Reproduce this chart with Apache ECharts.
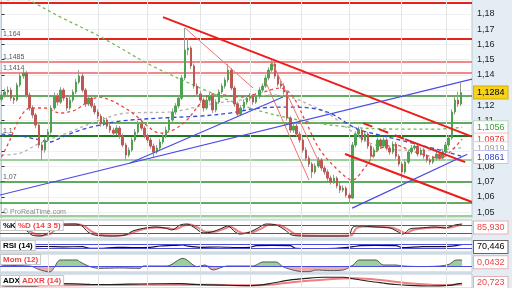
<!DOCTYPE html>
<html><head><meta charset="utf-8">
<script src="https://cdn.jsdelivr.net/npm/echarts/dist/echarts.min.js"></script>
<style>html,body{margin:0;padding:0;background:#e4edf4}#c{width:512px;height:288px}</style>
</head><body><div id="c"></div><script>
// ---------- data ----------
const opens=[1.1240,1.1268,1.1288,1.1301,1.1248,1.1235,1.1334,1.1393,1.1413,1.1268,
1.1183,1.1137,1.1071,1.0940,1.0907,1.0973,1.1025,1.1183,1.1261,1.1222,
1.1301,1.1248,1.1183,1.1235,1.1288,1.1353,1.1393,1.1301,1.1209,1.1248,
1.1196,1.1157,1.1130,1.1078,1.1104,1.1064,1.1038,1.1018,1.1051,1.0999,
1.0940,1.0874,1.0907,1.0973,1.1025,1.1078,1.1051,1.0999,1.0973,1.0933,
1.0894,1.0920,1.0960,1.0999,1.1038,1.1104,1.1157,1.1196,1.1248,1.1380,
1.1564,1.1577,1.1459,1.1327,1.1275,1.1235,1.1183,1.1235,1.1261,1.1170,
1.1222,1.1288,1.1327,1.1367,1.1432,1.1314,1.1209,1.1143,1.1183,1.1222,
1.1248,1.1261,1.1222,1.1261,1.1301,1.1327,1.1380,1.1432,1.1472,1.1393,
1.1340,1.1327,1.1288,1.1117,1.1038,1.1064,1.1012,1.0973,1.0907,1.0854,
1.0815,1.0763,1.0802,1.0841,1.0789,1.0763,1.0723,1.0697,1.0723,1.0671,
1.0644,1.0657,1.0611,1.0592,1.0940,1.1012,1.1038,1.0973,1.1012,1.0933,
1.0867,1.0907,1.0973,1.0933,1.0973,1.0920,1.0894,1.0946,1.0867,1.0815,
1.0763,1.0828,1.0894,1.0920,1.0933,1.0881,1.0907,1.0867,1.0841,1.0828,
1.0854,1.0881,1.0854,1.0894,1.0940,1.0986,1.1157,1.1235,1.1209];
const closes=[1.1268,1.1288,1.1301,1.1248,1.1235,1.1334,1.1393,1.1413,1.1268,1.1183,
1.1137,1.1071,1.0940,1.0907,1.0973,1.1025,1.1183,1.1261,1.1222,1.1301,
1.1248,1.1183,1.1235,1.1288,1.1353,1.1393,1.1301,1.1209,1.1248,1.1196,
1.1157,1.1130,1.1078,1.1104,1.1064,1.1038,1.1018,1.1051,1.0999,1.0940,
1.0874,1.0907,1.0973,1.1025,1.1078,1.1051,1.0999,1.0973,1.0933,1.0894,
1.0920,1.0960,1.0999,1.1038,1.1104,1.1157,1.1196,1.1248,1.1380,1.1564,
1.1577,1.1459,1.1327,1.1275,1.1235,1.1183,1.1235,1.1261,1.1170,1.1222,
1.1288,1.1327,1.1367,1.1432,1.1314,1.1209,1.1143,1.1183,1.1222,1.1248,
1.1261,1.1222,1.1261,1.1301,1.1327,1.1380,1.1432,1.1472,1.1393,1.1340,
1.1327,1.1288,1.1117,1.1038,1.1064,1.1012,1.0973,1.0907,1.0854,1.0815,
1.0763,1.0802,1.0841,1.0789,1.0763,1.0723,1.0697,1.0723,1.0671,1.0644,
1.0657,1.0611,1.0592,1.0940,1.1012,1.1038,1.0973,1.1012,1.0933,1.0867,
1.0907,1.0973,1.0933,1.0973,1.0920,1.0894,1.0946,1.0867,1.0815,1.0763,
1.0828,1.0894,1.0920,1.0933,1.0881,1.0907,1.0867,1.0841,1.0828,1.0854,
1.0881,1.0854,1.0894,1.0940,1.0986,1.1157,1.1235,1.1209,1.1284];
const highs=[1.1290,1.1310,1.1325,1.1318,1.1265,1.1350,1.1410,1.1440,1.1425,1.1285,
1.1200,1.1150,1.1085,1.0960,1.0990,1.1045,1.1200,1.1285,1.1280,1.1320,
1.1315,1.1260,1.1255,1.1305,1.1375,1.1432,1.1410,1.1315,1.1270,1.1262,
1.1215,1.1175,1.1145,1.1125,1.1120,1.1080,1.1055,1.1070,1.1065,1.1015,
1.0955,1.0925,1.0990,1.1045,1.1100,1.1095,1.1065,1.1015,1.0990,1.0950,
1.0940,1.0980,1.1020,1.1060,1.1125,1.1180,1.1215,1.1270,1.1400,1.1708,
1.1640,1.1590,1.1475,1.1345,1.1295,1.1250,1.1255,1.1285,1.1275,1.1240,
1.1305,1.1345,1.1385,1.1472,1.1445,1.1330,1.1225,1.1200,1.1240,1.1265,
1.1280,1.1275,1.1280,1.1320,1.1345,1.1400,1.1450,1.1498,1.1485,1.1405,
1.1360,1.1345,1.1300,1.1130,1.1085,1.1080,1.1030,1.0990,1.0925,1.0870,
1.0830,1.0820,1.0862,1.0855,1.0805,1.0780,1.0740,1.0745,1.0735,1.0690,
1.0675,1.0670,1.0625,1.0960,1.1030,1.1060,1.1050,1.1030,1.1025,1.0945,
1.0925,1.0990,1.0985,1.0990,1.0985,1.0935,1.0965,1.0960,1.0880,1.0830,
1.0845,1.0910,1.0940,1.0955,1.0945,1.0925,1.0920,1.0880,1.0855,1.0870,
1.0900,1.0895,1.0910,1.0960,1.1005,1.1175,1.1260,1.1290,1.1347];
const lows=[1.1225,1.1250,1.1270,1.1230,1.1210,1.1225,1.1320,1.1375,1.1250,1.1165,
1.1115,1.1050,1.0920,1.0841,1.0890,1.0960,1.1010,1.1170,1.1200,1.1210,
1.1230,1.1165,1.1170,1.1220,1.1275,1.1340,1.1285,1.1190,1.1195,1.1180,
1.1140,1.1110,1.1060,1.1065,1.1045,1.1020,1.1000,1.1005,1.0980,1.0925,
1.0841,1.0860,1.0895,1.0960,1.1010,1.1035,1.0985,1.0955,1.0915,1.0861,
1.0880,1.0905,1.0945,1.0985,1.1025,1.1090,1.1140,1.1180,1.1235,1.1365,
1.1530,1.1440,1.1310,1.1255,1.1215,1.1160,1.1170,1.1220,1.1150,1.1155,
1.1210,1.1275,1.1310,1.1350,1.1300,1.1190,1.1125,1.1130,1.1170,1.1205,
1.1230,1.1205,1.1210,1.1245,1.1285,1.1315,1.1365,1.1420,1.1375,1.1325,
1.1310,1.1270,1.1100,1.1020,1.1020,1.0995,1.0955,1.0890,1.0835,1.0795,
1.0723,1.0750,1.0790,1.0770,1.0745,1.0705,1.0680,1.0685,1.0655,1.0625,
1.0630,1.0595,1.0559,1.0585,1.0925,1.0995,1.0955,1.0960,1.0915,1.0850,
1.0855,1.0895,1.0915,1.0920,1.0905,1.0875,1.0880,1.0850,1.0800,1.0723,
1.0750,1.0815,1.0880,1.0905,1.0865,1.0870,1.0850,1.0825,1.0810,1.0815,
1.0840,1.0840,1.0845,1.0880,1.0925,1.0975,1.1140,1.1190,1.1195];

// moving averages [barIndex, price]
const ma20=[[0,1.0861],[2.7,1.0973],[5.9,1.1117],[9.2,1.1183],[14,1.1183],[18.8,1.1150],[23.7,1.1170],[28.5,1.1235],[31.7,1.1255],[34.9,1.1235],[38.1,1.1203],[43,1.1137],[47.8,1.1051],[51,1.1018],[55.2,1.1038],[59.7,1.1104],[63.9,1.1209],[68.1,1.1275],[72,1.1268],[76.8,1.1255],[83.2,1.1281],[89.7,1.1314],[93.5,1.1268],[97.7,1.1104],[102.6,1.0907],[109,1.0763],[112.9,1.0710],[117.1,1.0795],[121.2,1.0907],[126.7,1.0940],[131.5,1.0907],[136.4,1.0874],[141.2,1.0854],[144.4,1.0894],[148.3,1.0979]];
const ma50=[[0,1.1012],[6,1.0999],[12.4,1.0973],[15.6,1.0960],[18.8,1.0986],[25.3,1.1038],[31.7,1.1071],[38.1,1.1097],[51,1.1117],[63.9,1.1130],[73.6,1.1150],[83.2,1.1183],[92.9,1.1189],[99.3,1.1183],[105.8,1.1150],[112.2,1.1071],[115.4,1.1038],[121.9,1.1005],[128.3,1.0973],[141.2,1.0907],[148.3,1.0866]];
const ma100=[[0,1.0874],[6,1.0887],[12.4,1.0953],[21.1,1.1019],[31.7,1.1104],[40.4,1.1150],[54.3,1.1157],[67.1,1.1209],[76.8,1.1235],[86.5,1.1268],[92.9,1.1255],[99.3,1.1203],[105.8,1.1137],[112.2,1.1038],[118.7,1.0953],[128.3,1.0907],[138,1.0907],[148.3,1.0922]];
const ma200=[[0,1.2003],[9,1.1892],[19,1.1780],[32,1.1649],[48,1.1465],[64,1.1314],[80,1.1183],[96,1.1104],[112,1.1058],[128,1.1045],[141,1.1045],[148.3,1.1056]];

// trend lines [barIndex, price]
const redMain=[[52,1.1780],[151.5,1.0995]];
const redThinA=[[59.1,1.1708],[81,1.1314]];
const redThinB=[[84.8,1.1367],[99,1.0710]];
const redThinC=[[87.1,1.1485],[102.2,1.0828]];
const redLow=[[110.6,1.0881],[151.5,1.0566]];
const redUpDash=[[116.4,1.1084],[129.9,1.0979]];
const redUpSolid=[[129.9,1.0979],[149.3,1.0828]];
const blueLong=[[-0.5,1.0612],[151.5,1.1373]];
const blueSteep=[[41.4,1.0822],[90.6,1.1255]];
const blueRight=[[112.9,1.0526],[150,1.0880]];

// horizontal levels
const levelsRed=[1.1874,1.164];
const levelsPink=[1.1485,1.1414];
const levelsGreen=[1.1262,1.1086,1.07,1.0561];
const levelsGreenDark=[1.10];
const levelsGreenLight=[1.0841,1.0474];
const labeledLevels=[1.1874,1.164,1.1485,1.1414,1.10,1.07];
const labeledText=['1,1874','1,164','1,1485','1,1414','1,1','1,07'];

// right-hand value boxes
const lastPrice=1.1284;
const maLast={ma200:1.1056, ma20:1.0976, ma100:1.0919, ma50:1.0861};

// indicators [barIndex, value]
const stochK=[[0,59],[7.6,45],[9.8,9],[12.4,2],[15,24],[17.2,73],[19.5,87],[23.7,87],[25.9,73],[27.8,31],[30.1,9],[34.9,2],[39.8,9],[42.3,38],[44.6,52],[49.4,66],[52.6,59],[54.9,45],[57.5,80],[59.7,87],[62.3,59],[64.9,24],[67.8,31],[70.4,52],[72.9,73],[75.2,31],[76.8,16],[80,31],[82.6,59],[85.2,87],[88.4,80],[91.3,45],[93.5,9],[97.7,2],[105.8,2],[111.6,2],[113.2,66],[115.4,73],[120.3,66],[125.1,59],[127.7,31],[129.3,16],[131.5,52],[134.8,59],[139.6,66],[142.8,59],[146,80],[148.3,87]];
const stochD=[[0,62],[8,50],[10.5,20],[13,6],[15.7,18],[18,60],[20.5,82],[24.5,85],[26.8,70],[28.7,38],[31,14],[35.5,5],[40.5,12],[43,33],[45.5,50],[50,63],[53.5,58],[56,50],[58.5,74],[60.6,84],[63.2,62],[65.8,32],[68.7,32],[71.3,50],[73.8,68],[76,38],[77.8,22],[81,30],[83.6,55],[86.2,82],[89.3,80],[92.2,50],[94.5,16],[98.6,5],[106.7,4],[112.5,5],[114.2,55],[116.4,70],[121.2,67],[126,60],[128.6,36],[130.3,22],[132.5,45],[135.7,56],[140.5,63],[143.7,60],[147,76],[148.3,82]];
const stochLevels=[80,20];
const stochLast=85.930;
const rsi=[[0,50],[5,46],[9.2,48],[14,50],[20,47],[26,48],[28.5,32],[31.7,32],[37,42],[42,40],[47.8,42],[51,55],[55,60],[58.4,65],[59.7,55],[63.9,42],[70,45],[76,40],[80,42],[82,58],[87,60],[92.9,58],[94.8,32],[100,30],[107.7,32],[113.2,48],[115.4,58],[120,60],[127,58],[129.3,38],[135.7,48],[142.2,48],[146.4,58],[148.3,70]];
const rsiLevels=[70,30];
const rsiLast=70.446;
const mom=[[0,0.004],[9.2,0],[12,-0.025],[15.6,-0.043],[17,-0.010],[18.8,0.043],[24.3,0.043],[25.3,0.029],[28.5,-0.005],[31.7,-0.017],[38,-0.014],[44.6,-0.017],[45.6,0],[53.3,0],[58.4,0.055],[63,-0.005],[65.5,0.007],[68.1,-0.029],[72.6,0],[81,0],[82,0.007],[84.2,0.029],[88.4,0.029],[90.6,-0.005],[94,-0.030],[97.1,-0.041],[99,-0.041],[101.3,-0.029],[106,-0.033],[110,-0.029],[113.2,0.007],[115.1,0.043],[120.6,0.043],[122.9,0.007],[127,0.007],[129.3,0],[135,-0.004],[141.2,0],[144.1,0.012],[146.4,0.043],[148.3,0.043]];
const momLast=0.0432;
const adx=[[0,14],[2.7,12.6],[9.8,13],[12.4,15],[15,18.5],[19.1,20.7],[23.7,20],[28.5,18],[34.9,17.7],[44.6,19.5],[57.5,20.7],[62.3,18],[71,15.6],[78.4,14],[82,14.7],[87.4,22.8],[92.6,32.7],[98.1,38.7],[103.5,42.6],[110,42.6],[114.2,35.7],[118.3,28.8],[122.8,22.8],[127,17.7],[131.2,14.7],[137.7,12.6],[144.1,14.7],[147.3,20.7],[148.3,22]];
const adxr=[[0,15],[12.4,14],[34.9,16],[57.5,18],[78.4,15],[87.4,18],[96,28],[105.5,36],[114.2,39],[122.8,32],[131.2,22],[141,16],[148.3,18]];
const adxLast=20.723;

const monthTicks=[15,31,46.8,63.9,80,96.4,111.9,128.6,143.1];
const N=152; // bar slots (last 3 empty)
const cats=[]; for(let i=0;i<N;i++) cats.push('b'+i);

// ---------- chart ----------
const chart=echarts.init(document.getElementById('c'));
const FONT='Liberation Sans';
const comma=(v,d)=>v.toFixed(d).replace('.',',');
const W=472;
const gridStyle={show:true,backgroundColor:'#ffffff',borderColor:'#b7c9d6',borderWidth:1};
const vAxis=g=>({type:'value',gridIndex:g,min:-0.5,max:N-0.5,show:false});
const vLineStyle={color:'#e4e4e4',width:1,type:'solid'};
const vLines=()=>monthTicks.map(t=>({xAxis:t,lineStyle:vLineStyle,label:{show:false}}));

function hl(v,color,w){
  const k=labeledLevels.indexOf(v);
  return {yAxis:v,lineStyle:{color:color,width:w,type:'solid'},
    label:k<0?{show:false}:{show:true,position:'insideStartTop',distance:[3,1],formatter:labeledText[k],color:'#555',fontSize:7,fontFamily:FONT}};
}
const levelData=[];
levelsRed.forEach(v=>levelData.push(hl(v,'#e5231e',2)));
levelsPink.forEach(v=>levelData.push(hl(v,'#f08a8a',2)));
levelsGreen.forEach(v=>levelData.push(hl(v,'#2f8f2f',1.5)));
levelsGreenDark.forEach(v=>levelData.push(hl(v,'#1f7a1f',2)));
levelsGreenLight.forEach(v=>levelData.push(hl(v,'#9ad09a',2)));
vLines().forEach(d=>levelData.push(d));

function trend(data,color,width,type){
  return {type:'line',xAxisIndex:1,yAxisIndex:0,data:data,symbol:'none',silent:true,z:6,lineStyle:{color:color,width:width,type:type||'solid'}};
}
function ma(data,color,dash){
  return {type:'line',xAxisIndex:1,yAxisIndex:0,data:data,symbol:'none',silent:true,smooth:0.35,z:4,lineStyle:{color:color,width:1.3,type:dash}};
}
const ML=(data)=>({symbol:['none','none'],silent:true,precision:6,data:data});
const blueLvl=v=>({yAxis:v,lineStyle:{color:'#4b4be0',width:1,type:'solid'},label:{show:false}});

const series=[
  {type:'line',xAxisIndex:1,yAxisIndex:0,data:[[0,closes[0]]],symbol:'none',silent:true,z:1,lineStyle:{opacity:0},
    markLine:Object.assign(ML(levelData),{z:1})},
  {type:'candlestick',xAxisIndex:0,yAxisIndex:0,barWidth:1,z:3,silent:true,
    data:opens.map((o,i)=>[o,closes[i],lows[i],highs[i]]),
    itemStyle:{color:'#9c9c9c',color0:'#9c9c9c',borderColor:'#9c9c9c',borderColor0:'#9c9c9c',borderWidth:1}},
  {type:'candlestick',xAxisIndex:0,yAxisIndex:0,barWidth:2,z:4,silent:true,
    data:opens.map((o,i)=>[o,closes[i],Math.min(o,closes[i]),Math.max(o,closes[i])]),
    itemStyle:{color:'#4ea34e',color0:'#bf5753',borderColor:'#4ea34e',borderColor0:'#bf5753',borderWidth:1}},
  ma(ma200,'#74b85a',[3,3]),
  ma(ma100,'#b0b0b0',[3,3]),
  ma(ma50,'#3848d8',[4,3]),
  ma(ma20,'#ee4444',[3,3]),
  trend(redMain,'#ee1c1c',2),
  trend(redThinA,'#f07070',1),
  trend(redThinB,'#f07070',1),
  trend(redThinC,'#f07070',1),
  trend(redLow,'#ee1c1c',2),
  trend(redUpDash,'#ee1c1c',2,[10,7]),
  trend(redUpSolid,'#ee1c1c',2),
  trend(blueLong,'#4a4ae6',1.2),
  trend(blueSteep,'#4a4ae6',1.2),
  trend(blueRight,'#4a4ae6',1.2),
  // stochastic
  {type:'line',xAxisIndex:2,yAxisIndex:1,data:stochD,symbol:'none',silent:true,smooth:0.3,lineStyle:{color:'#f08080',width:2},
    markLine:ML([...stochLevels.map(blueLvl),...vLines()])},
  {type:'line',xAxisIndex:2,yAxisIndex:1,data:stochK,symbol:'none',silent:true,smooth:0.3,lineStyle:{color:'#222',width:1}},
  // RSI
  {type:'line',xAxisIndex:3,yAxisIndex:2,data:rsi,symbol:'none',silent:true,smooth:0.3,lineStyle:{color:'#111',width:1.2},
    markLine:ML([...rsiLevels.map(blueLvl),...vLines()])},
  // Momentum
  {type:'line',xAxisIndex:4,yAxisIndex:3,data:mom.map(p=>[p[0],Math.max(p[1],0)]),symbol:'none',silent:true,smooth:0.3,lineStyle:{width:0},areaStyle:{color:'#8fcc8f',opacity:0.9}},
  {type:'line',xAxisIndex:4,yAxisIndex:3,data:mom.map(p=>[p[0],Math.min(p[1],0)]),symbol:'none',silent:true,smooth:0.3,lineStyle:{width:0},areaStyle:{color:'#eba3a3',opacity:0.9}},
  {type:'line',xAxisIndex:4,yAxisIndex:3,data:mom,symbol:'none',silent:true,smooth:0.3,lineStyle:{color:'#555',width:1},
    markLine:ML([Object.assign(blueLvl(0),{lineStyle:{color:'#4b4be0',width:1.2,type:'solid'}}),...vLines()])},
  // ADX
  {type:'line',xAxisIndex:5,yAxisIndex:4,data:adxr,symbol:'none',silent:true,smooth:0.3,lineStyle:{color:'#f08080',width:2},
    markLine:ML(vLines())},
  {type:'line',xAxisIndex:5,yAxisIndex:4,data:adx,symbol:'none',silent:true,smooth:0.3,lineStyle:{color:'#222',width:1.2}}
];

const lbl=(text,color,x,y)=>({type:'text',x:x,y:y,z:100,silent:true,style:{text:text,fill:color,font:'bold 8px "'+FONT+'"',backgroundColor:'#fff',borderColor:'#c8c8c8',borderWidth:1,padding:[1,2,0,2]}});
const baseGraphics=[
  {type:'text',x:3,y:209,z:100,silent:true,style:{text:'© ProRealTime.com',fill:'#8a8a8a',font:'7px "'+FONT+'"'}},
  lbl('%K','#000',1,221),
  lbl('%D (14 3 5)','#e44',16,221),
  lbl('RSI (14)','#000',1,241),
  lbl('Mom (12)','#e44',1,255),
  lbl('ADX','#000',1,276),
  lbl('ADXR (14)','#e44',20,276)
];

chart.setOption({
  animation:false,
  backgroundColor:'#e4edf4',
  grid:[
    Object.assign({left:0,top:0,width:W,height:218},gridStyle),
    Object.assign({left:0,top:220,width:W,height:18},gridStyle),
    Object.assign({left:0,top:240,width:W,height:12},gridStyle),
    Object.assign({left:0,top:254,width:W,height:18},gridStyle),
    Object.assign({left:0,top:274,width:W,height:16},gridStyle)
  ],
  xAxis:[{type:'category',gridIndex:0,data:cats,boundaryGap:true,show:false},vAxis(0),vAxis(1),vAxis(2),vAxis(3),vAxis(4)],
  yAxis:[
    {type:'value',gridIndex:0,position:'right',min:1.0461,max:1.1892,splitNumber:14,
      axisLine:{show:true,lineStyle:{color:'#b7c9d6'}},
      axisTick:{show:true,length:3,lineStyle:{color:'#333'}},
      axisLabel:{show:true,margin:5,fontSize:9,fontFamily:FONT,color:'#222',showMinLabel:false,showMaxLabel:false,
        formatter:v=>{const r=Math.round(v*100)/100;return Math.abs(v-r)>1e-6?'':r.toFixed(2).replace('.',',');}},
      splitLine:{show:true,lineStyle:{color:'#f0f0f0'}}},
    {type:'value',gridIndex:1,min:-11.8,max:115.3,show:false},
    {type:'value',gridIndex:2,min:-5,max:115,show:false},
    {type:'value',gridIndex:3,min:-0.0432,max:0.0864,show:false},
    {type:'value',gridIndex:4,min:5.7,max:53.7,show:false}
  ],
  series:series,
  graphic:baseGraphics
});

// value boxes on the right, placed through the axes' own scales
function valBox(axis,v,text,color,bg,border){
  const y=chart.convertToPixel({yAxisIndex:axis},v);
  return {type:'text',x:474,y:y,z:120,silent:true,style:{text:text,fill:color,font:'9px "'+FONT+'"',verticalAlign:'middle',backgroundColor:bg,borderColor:border,borderWidth:1,padding:[2,3,1,3]}};
}
const boxes=[
  valBox(0,lastPrice,comma(lastPrice,4),'#000','#f7d21b','#d4b000'),
  valBox(0,maLast.ma200,comma(maLast.ma200,4),'#3a9a3a','#fff','#b8d8b8'),
  valBox(0,maLast.ma20,comma(maLast.ma20,4),'#e33','#fff','#f0c0c0'),
  valBox(0,maLast.ma100,comma(maLast.ma100,4),'#9a9a9a','#fff','#d8d8d8'),
  valBox(0,maLast.ma50,comma(maLast.ma50,4),'#3344cc','#fff','#c0c8ee'),
  valBox(1,62,comma(stochLast,3),'#e44','#fff','#e8b0b0'),
  valBox(2,45,comma(rsiLast,3),'#000','#fff','#666'),
  valBox(3,0.0275,comma(momLast,4),'#e44','#fff','#e8b0b0'),
  valBox(4,23,comma(adxLast,3),'#e44','#fff','#e8b0b0')
];
chart.setOption({graphic:baseGraphics.concat(boxes)});
</script></body></html>
